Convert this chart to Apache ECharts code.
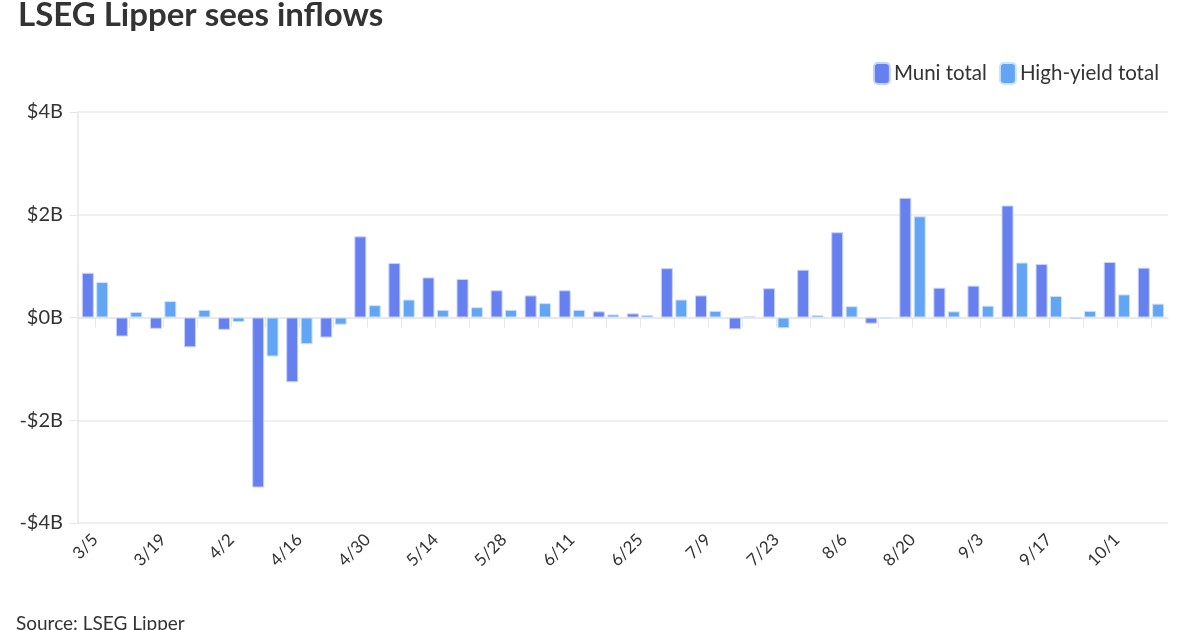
<!DOCTYPE html>
<html>
<head>
<meta charset="utf-8">
<script src="https://cdn.jsdelivr.net/npm/echarts@6/dist/echarts.min.js"></script>
<style>
  html, body { margin: 0; padding: 0; background: #fff; }
  #myChart { width: 1200px; height: 630px; }
</style>
</head>
<body>
<div id="myChart"></div>
<script>
// weekly fund flows, $ billions
const weeks = ["3/5", "3/12", "3/19", "3/26", "4/2", "4/9", "4/16", "4/23", "4/30", "5/7",
  "5/14", "5/21", "5/28", "6/4", "6/11", "6/18", "6/25", "7/2", "7/9", "7/16",
  "7/23", "7/30", "8/6", "8/13", "8/20", "8/27", "9/3", "9/10", "9/17", "9/24",
  "10/1", "10/8"];
const muniTotal = [0.87, -0.37, -0.22, -0.58, -0.24, -3.31, -1.26, -0.39, 1.58, 1.06,
  0.78, 0.75, 0.53, 0.43, 0.53, 0.12, 0.08, 0.96, 0.43, -0.23,
  0.57, 0.93, 1.66, -0.12, 2.33, 0.58, 0.62, 2.18, 1.04, -0.03,
  1.08, 0.97];
const highYieldTotal = [0.69, 0.11, 0.32, 0.15, -0.09, -0.76, -0.52, -0.14, 0.24, 0.35,
  0.15, 0.20, 0.15, 0.28, 0.15, 0.06, 0.05, 0.35, 0.13, 0.03,
  -0.21, 0.05, 0.22, -0.02, 1.97, 0.12, 0.23, 1.07, 0.42, 0.13,
  0.45, 0.27];
const yTicks = [-4, -2, 0, 2, 4];

let myChart = echarts.init(document.getElementById("myChart"));

const font = "Lato, 'Noto Sans', sans-serif";

let option = {
  animation: false,
  textStyle: { fontFamily: font },
  title: {
    text: "LSEG Lipper sees inflows",
    left: 13,
    top: -6,
    textStyle: { fontSize: 33, fontWeight: "bold", color: "#333", fontFamily: font },
  },
  graphic: [{
    type: "text",
    left: 16,
    top: 614,
    style: { text: "Source: LSEG Lipper", fontSize: 19, fill: "#333", fontFamily: font },
  }],
  legend: {
    data: ["Muni total", "High-yield total"],
    right: 36,
    top: 57,
    itemWidth: 16,
    itemHeight: 21,
    itemGap: 12,
    icon: "roundRect",
    textStyle: { fontSize: 20.5, color: "#333", padding: [0, 0, 0, -1] },
  },
  grid: { left: 78, right: 32, top: 112, bottom: 107 },
  xAxis: {
    type: "category",
    data: weeks,
    axisLine: { show: true, lineStyle: { color: "#e6e6e6", width: 1.5 } },
    axisTick: { show: true, interval: 0, alignWithLabel: true, length: 10, lineStyle: { color: "#e6e6e6" } },
    axisLabel: { interval: 1, rotate: 45, fontSize: 17, color: "#333", margin: 14 },
  },
  yAxis: {
    type: "value",
    min: yTicks[0],
    max: yTicks[yTicks.length - 1],
    interval: 2,
    axisLine: { show: true, onZero: false, lineStyle: { color: "#e6e6e6", width: 1.5 } },
    axisTick: { show: true, length: 8, lineStyle: { color: "#e6e6e6" } },
    axisLabel: {
      fontSize: 20, color: "#333", margin: 15,
      formatter: v => (v < 0 ? "-$" + Math.abs(v) : "$" + v) + "B",
    },
    splitLine: { lineStyle: { color: "#ebebeb", width: 1.5 } },
  },
  series: [
    {
      name: "Muni total",
      type: "bar",
      data: muniTotal,
      barWidth: 12,
      barGap: "20%",
      itemStyle: { color: "#6680F0", borderColor: "#c9d3fa", borderWidth: 1 },
    },
    {
      name: "High-yield total",
      type: "bar",
      data: highYieldTotal,
      barWidth: 12,
      itemStyle: { color: "#62A5F4", borderColor: "#cfe3fb", borderWidth: 1 },
    },
  ],
};

myChart.setOption(option);
</script>
</body>
</html>
